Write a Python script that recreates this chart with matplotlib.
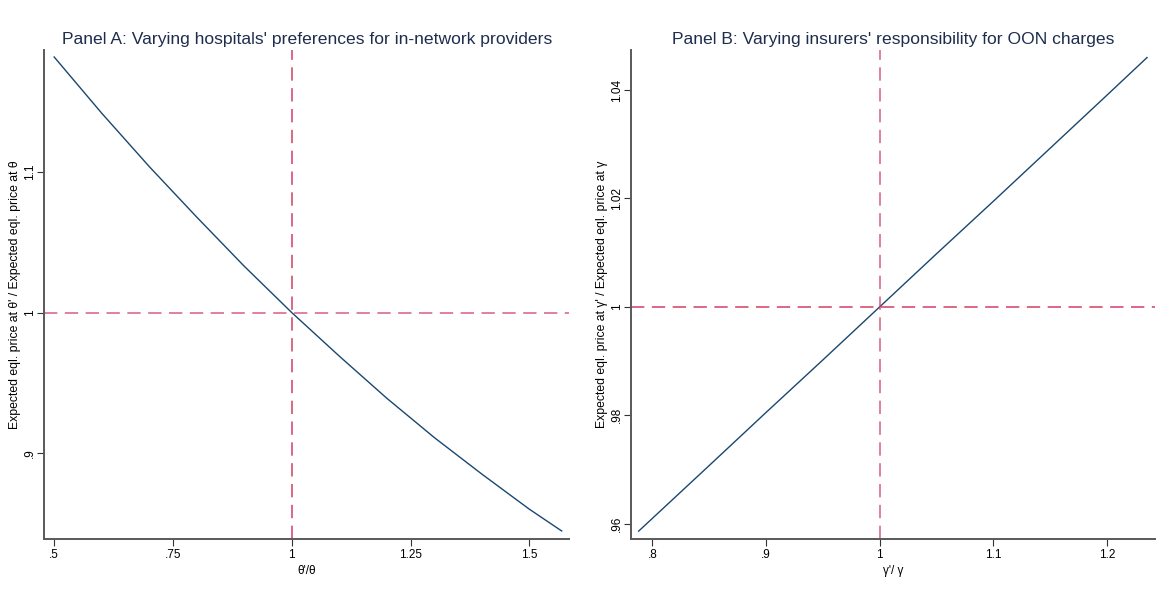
import matplotlib
matplotlib.use("Agg")
import matplotlib.pyplot as plt

plt.rcParams['font.family'] = ['Liberation Sans', 'DejaVu Sans']

# Panel A: hospitals' preference ratio vs relative expected price
theta_ratio = [0.50, 0.60, 0.70, 0.80, 0.90, 1.00, 1.10, 1.20, 1.30, 1.40, 1.50, 1.568]
price_a = [1.182, 1.142, 1.104, 1.068, 1.033, 1.000, 0.969, 0.939, 0.911, 0.885, 0.860, 0.8445]

# Panel B: insurers' OON responsibility ratio vs relative expected price
gamma_ratio = [0.788, 0.85, 0.90, 0.95, 1.00, 1.05, 1.10, 1.15, 1.20, 1.235]
price_b = [0.9586, 0.9707, 0.9805, 0.9902, 1.000, 1.0098, 1.0195, 1.0293, 1.0391, 1.0460]

ticks_a_x = [0.5, 0.75, 1, 1.25, 1.5]
ticks_a_x_lab = ['.5', '.75', '1', '1.25', '1.5']
ticks_a_y = [0.9, 1, 1.1]
ticks_a_y_lab = ['.9', '1', '1.1']

ticks_b_x = [0.8, 0.9, 1, 1.1, 1.2]
ticks_b_x_lab = ['.8', '.9', '1', '1.1', '1.2']
ticks_b_y = [0.96, 0.98, 1, 1.02, 1.04]
ticks_b_y_lab = ['.96', '.98', '1', '1.02', '1.04']

navy = '#1a476f'
red = '#d03a62'
title_col = '#1f2d4d'

fig = plt.figure(figsize=(11.69, 6.02), dpi=100)
ax_a = fig.add_axes([0.0376, 0.1042, 0.4494, 0.8128])
ax_b = fig.add_axes([0.5398, 0.1042, 0.4482, 0.8128])


def style(ax, xt, xtl, yt, ytl, xlab, ylab, title):
    for s in ['top', 'right']:
        ax.spines[s].set_visible(False)
    for s in ['left', 'bottom']:
        ax.spines[s].set_color('#595959')
        ax.spines[s].set_linewidth(1.4)
    ax.set_xticks(xt)
    ax.set_xticklabels(xtl, fontsize=8.5)
    ax.set_yticks(yt)
    ax.set_yticklabels(ytl, fontsize=8.5, rotation=90, va='center')
    ax.tick_params(direction='out', length=5, width=0.8, color='#333333', pad=2)
    ax.tick_params(axis='y', pad=1)
    ax.set_xlabel(xlab, fontsize=8.5, labelpad=3)
    ax.set_ylabel(ylab, fontsize=8.8, labelpad=2)
    ax.set_title(title, fontsize=12.6, color=title_col, pad=4)


ax_a.plot(theta_ratio, price_a, color=navy, lw=1.0)
ax_a.axhline(1, color=red, lw=1.2, dashes=(8, 4.5), alpha=0.75)
ax_a.axvline(1, color=red, lw=1.2, dashes=(8, 4.5), alpha=0.9)
ax_a.set_xlim(0.4785, 1.584)
ax_a.set_ylim(0.8386, 1.187)
style(ax_a, ticks_a_x, ticks_a_x_lab, ticks_a_y, ticks_a_y_lab,
      "\u03b8'/\u03b8", "Expected eql. price at \u03b8' / Expected eql. price at \u03b8",
      "Panel A: Varying hospitals' preferences for in-network providers")

ax_b.plot(gamma_ratio, price_b, color=navy, lw=1.0)
ax_b.axhline(1, color=red, lw=1.2, dashes=(8, 4.5), alpha=0.9)
ax_b.axvline(1, color=red, lw=1.2, dashes=(8, 4.5), alpha=0.75)
ax_b.set_xlim(0.7813, 1.242)
ax_b.set_ylim(0.9571, 1.0474)
style(ax_b, ticks_b_x, ticks_b_x_lab, ticks_b_y, ticks_b_y_lab,
      "\u03b3'/ \u03b3", "Expected eql. price at \u03b3' / Expected eql. price at \u03b3",
      "Panel B: Varying insurers' responsibility for OON charges")

fig.savefig("out.png", dpi=100)
